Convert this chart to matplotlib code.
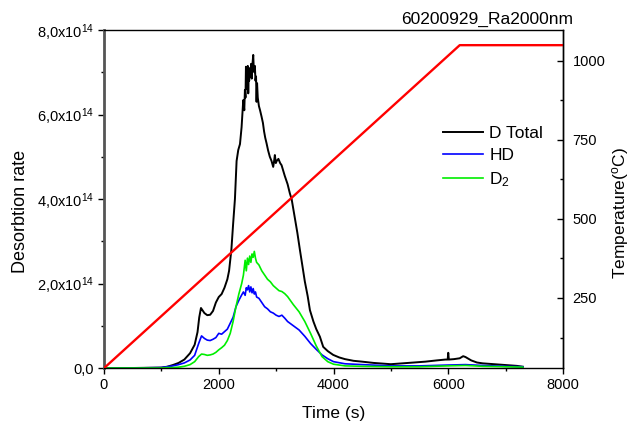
import matplotlib
matplotlib.use("Agg")
import matplotlib.pyplot as plt
from matplotlib.ticker import MultipleLocator, FuncFormatter

plt.rcParams['font.family'] = ['Liberation Sans', 'DejaVu Sans']
plt.rcParams['mathtext.fontset'] = 'custom'
plt.rcParams['mathtext.rm'] = 'Liberation Sans'
plt.rcParams['mathtext.it'] = 'Liberation Sans:italic'
plt.rcParams['mathtext.bf'] = 'Liberation Sans:bold'

# desorption rates in units of 1e14
t_total = [0, 500, 1000, 1100, 1200, 1300, 1400, 1500, 1580, 1630,
           1660, 1690, 1710, 1750, 1800, 1850, 1900, 1950, 2000, 2050,
           2100, 2150, 2180, 2220, 2250, 2282, 2311, 2340, 2370, 2398,
           2427, 2445, 2456, 2466, 2474, 2482, 2490, 2498, 2506, 2514,
           2522, 2530, 2543, 2555, 2565, 2575, 2585, 2601, 2610, 2620,
           2630, 2640, 2650, 2659, 2668, 2680, 2700, 2720, 2746, 2770,
           2790, 2810, 2833, 2860, 2890, 2920, 2949, 2965, 2978, 2995,
           3010, 3040, 3070, 3095, 3150, 3200, 3240, 3270, 3320, 3370,
           3414, 3460, 3500, 3550, 3589, 3650, 3700, 3763, 3821, 3900,
           3995, 4100, 4200, 4350, 4500, 4700, 5000, 5200, 5400, 5600,
           5800, 5950, 5990, 6000, 6010, 6100, 6200, 6260, 6300, 6350,
           6400, 6500, 6600, 6800, 7000, 7200, 7300]
d_total = [0.0, 0.0, 0.01, 0.03, 0.07, 0.12, 0.2, 0.35, 0.55, 0.85,
           1.2, 1.42, 1.38, 1.3, 1.25, 1.26, 1.35, 1.55, 1.68, 1.75,
           1.9, 2.1, 2.3, 2.8, 3.4, 4.0, 4.9, 5.16, 5.3, 5.7,
           6.34, 6.1, 6.58, 6.4, 7.13, 6.6, 7.05, 6.8, 7.15, 6.5,
           7.0, 6.8, 7.1, 6.9, 7.2, 6.85, 7.15, 7.41, 7.1, 7.0,
           7.15, 6.8, 6.9, 6.3, 6.74, 6.4, 6.2, 6.1, 5.95, 5.8,
           5.6, 5.45, 5.32, 5.15, 5.0, 4.9, 4.76, 4.9, 5.04, 4.85,
           4.9, 4.95, 4.85, 4.8, 4.55, 4.35, 4.13, 4.0, 3.6, 3.2,
           2.8, 2.4, 2.05, 1.7, 1.37, 1.1, 0.92, 0.74, 0.5, 0.4,
           0.31, 0.25, 0.21, 0.17, 0.15, 0.12, 0.09, 0.11, 0.13, 0.15,
           0.18, 0.2, 0.2, 0.36, 0.2, 0.21, 0.23, 0.28, 0.26, 0.22,
           0.18, 0.13, 0.11, 0.09, 0.07, 0.05, 0.03]

t_iso = [0, 500, 1000, 1100, 1200, 1300, 1400, 1500, 1580, 1650,
         1700, 1750, 1800, 1850, 1900, 1950, 2000, 2050, 2100, 2150,
         2200, 2250, 2300, 2350, 2400, 2430, 2460, 2480, 2500, 2520,
         2540, 2560, 2580, 2600, 2620, 2640, 2660, 2700, 2750, 2800,
         2850, 2900, 2950, 3000, 3050, 3100, 3150, 3200, 3300, 3400,
         3500, 3600, 3700, 3800, 3900, 4000, 4200, 4500, 5000, 5500,
         6000, 6300, 6600, 7000, 7300]
hd = [0.0, 0.0, 0.01, 0.03, 0.05, 0.08, 0.12, 0.19, 0.3, 0.58,
      0.76, 0.7, 0.66, 0.65, 0.68, 0.72, 0.82, 0.8, 0.86, 0.92,
      1.06, 1.2, 1.45, 1.6, 1.73, 1.8, 1.72, 1.9, 1.85, 1.95,
      1.8, 1.92, 1.78, 1.88, 1.75, 1.8, 1.68, 1.65, 1.55, 1.45,
      1.4, 1.33, 1.3, 1.25, 1.22, 1.25, 1.18, 1.1, 1.0, 0.9,
      0.75, 0.58, 0.44, 0.31, 0.22, 0.15, 0.1, 0.08, 0.05, 0.05,
      0.07, 0.08, 0.06, 0.04, 0.03]
d2 = [0.0, 0.0, 0.0, 0.01, 0.01, 0.02, 0.04, 0.08, 0.15, 0.27,
      0.33, 0.32, 0.3, 0.31, 0.33, 0.37, 0.43, 0.48, 0.54, 0.65,
      0.82, 1.1, 1.45, 1.75, 2.0, 2.2, 2.55, 2.3, 2.6, 2.45,
      2.65, 2.5, 2.7, 2.62, 2.76, 2.6, 2.5, 2.44, 2.3, 2.2,
      2.1, 2.04, 1.95, 1.89, 1.83, 1.81, 1.76, 1.69, 1.5, 1.33,
      1.1, 0.82, 0.52, 0.27, 0.15, 0.09, 0.05, 0.04, 0.03, 0.03,
      0.05, 0.06, 0.04, 0.03, 0.02]

t_temp = [0, 6200, 8000]
temp = [28, 1050, 1050]

fig = plt.figure(figsize=(6.33, 4.26), dpi=100)
ax = fig.add_axes([104/633, 1-368/426, 459/633, 338/426])

ax.plot(t_total, [v*1e14 for v in d_total], color='black', lw=1.4, label='D Total')
ax.plot(t_iso, [v*1e14 for v in hd], color='#0000ff', lw=1.2, label='HD')
ax.plot(t_iso, [v*1e14 for v in d2], color='#00ee00', lw=1.2, label='D$_2$')

ax.set_xlim(0, 8000)
ax.set_ylim(0, 8e14)
ax.xaxis.set_major_locator(MultipleLocator(2000))
ax.xaxis.set_minor_locator(MultipleLocator(1000))
ax.yaxis.set_major_locator(MultipleLocator(2e14))
ax.yaxis.set_minor_locator(MultipleLocator(1e14))

def fmt(v, pos):
    if v == 0:
        return '0,0'
    return ('%.1f' % (v/1e14)).replace('.', ',') + 'x10$^{14}$'

ax.yaxis.set_major_formatter(FuncFormatter(fmt))
ax.tick_params(which='both', direction='out', labelsize=10.5, top=False, right=False)
ax.tick_params(which='major', length=4, width=1, pad=3)
ax.tick_params(which='minor', length=2.5, width=1)
ax.spines['left'].set_color('#555555')
ax.spines['left'].set_linewidth(2)
for s in ['top', 'right', 'bottom']:
    ax.spines[s].set_linewidth(1)

ax.set_xlabel('Time (s)', fontsize=12.5, labelpad=10)
ax.set_ylabel('Desorbtion rate', fontsize=13, labelpad=6)
ax.yaxis.label.set_y(0.464)

ax.legend(loc='upper left', bbox_to_anchor=(0.739, 0.715), frameon=False,
          fontsize=12.5, borderpad=0, borderaxespad=0, handlelength=2.3,
          handletextpad=0.35, labelspacing=0.38)

ax2 = ax.twinx()
ax2.plot(t_temp, temp, color='red', lw=1.7)
ax2.set_ylim(28.5, 1098)
ax2.yaxis.set_major_locator(MultipleLocator(250))
ax2.set_yticks([125, 375, 625, 875], minor=True)
ax2.tick_params(which='both', direction='in', labelsize=10.5)
ax2.tick_params(which='major', length=4, width=1, pad=7)
ax2.tick_params(which='minor', length=2.5, width=1)
ax2.set_ylabel('Temperature($^{\\mathrm{o}}$C)', fontsize=12.5, labelpad=3)
ax2.yaxis.label.set_y(0.459)
for s in ax2.spines.values():
    s.set_visible(False)
ax2.spines['right'].set_visible(True)
ax2.spines['right'].set_linewidth(1)

fig.text(573/633, 1-23.5/426, '60200929_Ra2000nm', fontsize=12.5,
         ha='right', va='baseline')

fig.savefig('out.png', dpi=100)
